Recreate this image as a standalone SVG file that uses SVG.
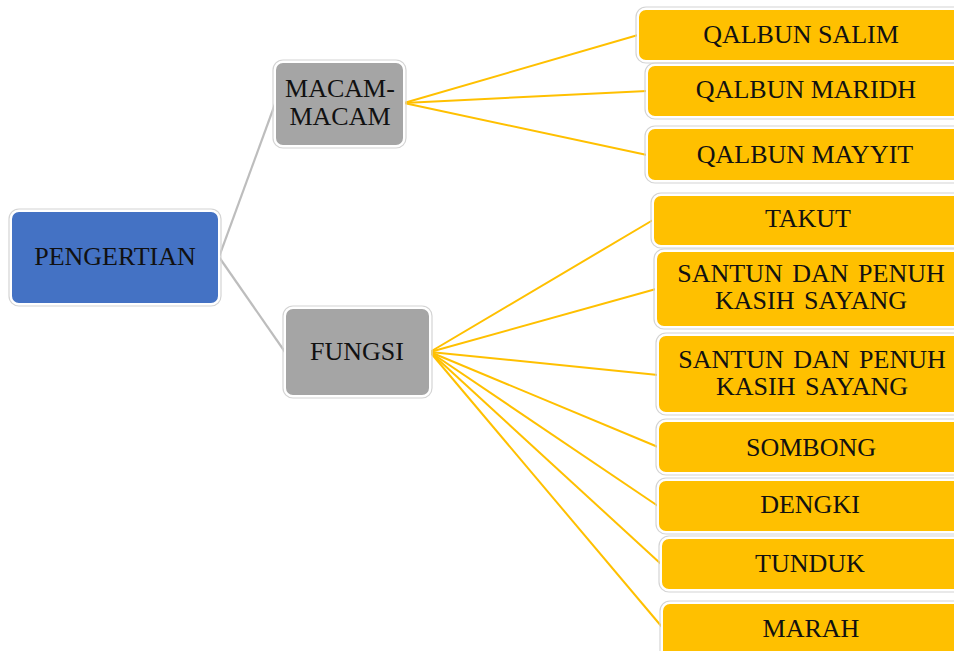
<svg xmlns="http://www.w3.org/2000/svg" width="954" height="651" viewBox="0 0 954 651">
<style>
.halo{fill:none;stroke:#d4d4d4;stroke-width:1.2}
.box{stroke:#ffffff;stroke-width:2}
.blue{fill:#4472C4}
.gray{fill:#A5A5A5}
.yel{fill:#FFC000}
.t{font-size:26px;fill:#111;text-anchor:middle}
.c1{stroke:#BDBDBD;stroke-width:2.2;fill:none}
.c2{stroke:#FFC000;stroke-width:2;fill:none}
</style>
<rect width="954" height="651" fill="#ffffff"/>
<g id="connectors">
<line class="c1" x1="219" y1="257" x2="275" y2="104"/>
<line class="c1" x1="219" y1="257" x2="285" y2="352"/>
<line class="c2" x1="404" y1="103" x2="638" y2="35"/>
<line class="c2" x1="404" y1="103" x2="647" y2="91"/>
<line class="c2" x1="404" y1="103" x2="647" y2="155"/>
<line class="c2" x1="430" y1="352" x2="653" y2="220"/>
<line class="c2" x1="430" y1="352" x2="656" y2="289"/>
<line class="c2" x1="430" y1="352" x2="658" y2="375"/>
<line class="c2" x1="430" y1="352" x2="658" y2="447"/>
<line class="c2" x1="430" y1="352" x2="658" y2="506"/>
<line class="c2" x1="430" y1="352" x2="661" y2="564"/>
<line class="c2" x1="430" y1="352" x2="662" y2="627"/>
</g>
<g font-family="Liberation Serif">
<g id="pengertian">
<rect class="halo" x="9" y="209" width="212" height="97" rx="10"/>
<rect class="box blue" x="11" y="211" width="208" height="93" rx="8"/>
<text class="t" font-family="Liberation Serif" x="115" y="265">PENGERTIAN</text>
</g>
<g id="macam">
<rect class="halo" x="273" y="60" width="133" height="88" rx="10"/>
<rect class="box gray" x="275" y="62" width="129" height="84" rx="8"/>
<text class="t" font-family="Liberation Serif" x="340" y="97">MACAM-</text>
<text class="t" font-family="Liberation Serif" x="340" y="125">MACAM</text>
</g>
<g id="fungsi">
<rect class="halo" x="283" y="306" width="149" height="92" rx="10"/>
<rect class="box gray" x="285" y="308" width="145" height="88" rx="8"/>
<text class="t" font-family="Liberation Serif" x="357" y="360">FUNGSI</text>
</g>
<g id="salim">
<rect class="halo" x="636" y="7" width="340" height="56" rx="10"/>
<rect class="box yel" x="638" y="9" width="336" height="52" rx="8"/>
<text class="t" font-family="Liberation Serif" x="801" y="43">QALBUN SALIM</text>
</g>
<g id="maridh">
<rect class="halo" x="645" y="63" width="340" height="56" rx="10"/>
<rect class="box yel" x="647" y="65" width="336" height="52" rx="8"/>
<text class="t" font-family="Liberation Serif" x="806" y="98">QALBUN MARIDH</text>
</g>
<g id="mayyit">
<rect class="halo" x="645" y="126" width="340" height="57" rx="10"/>
<rect class="box yel" x="647" y="128" width="336" height="53" rx="8"/>
<text class="t" font-family="Liberation Serif" x="805" y="163">QALBUN MAYYIT</text>
</g>
<g id="takut">
<rect class="halo" x="651" y="193" width="340" height="55" rx="10"/>
<rect class="box yel" x="653" y="195" width="336" height="51" rx="8"/>
<text class="t" font-family="Liberation Serif" x="808" y="227">TAKUT</text>
</g>
<g id="santun1">
<rect class="halo" x="654" y="249" width="340" height="80" rx="10"/>
<rect class="box yel" x="656" y="251" width="336" height="76" rx="8"/>
<text class="t" font-family="Liberation Serif" x="811" y="282" word-spacing="3">SANTUN DAN PENUH</text>
<text class="t" font-family="Liberation Serif" x="811" y="309" word-spacing="3">KASIH SAYANG</text>
</g>
<g id="santun2">
<rect class="halo" x="656" y="333" width="340" height="82" rx="10"/>
<rect class="box yel" x="658" y="335" width="336" height="78" rx="8"/>
<text class="t" font-family="Liberation Serif" x="812" y="368" word-spacing="3">SANTUN DAN PENUH</text>
<text class="t" font-family="Liberation Serif" x="812" y="395" word-spacing="3">KASIH SAYANG</text>
</g>
<g id="sombong">
<rect class="halo" x="656" y="419" width="340" height="56" rx="10"/>
<rect class="box yel" x="658" y="421" width="336" height="52" rx="8"/>
<text class="t" font-family="Liberation Serif" x="811" y="456">SOMBONG</text>
</g>
<g id="dengki">
<rect class="halo" x="656" y="478" width="340" height="56" rx="10"/>
<rect class="box yel" x="658" y="480" width="336" height="52" rx="8"/>
<text class="t" font-family="Liberation Serif" x="810" y="513">DENGKI</text>
</g>
<g id="tunduk">
<rect class="halo" x="659" y="536" width="340" height="56" rx="10"/>
<rect class="box yel" x="661" y="538" width="336" height="52" rx="8"/>
<text class="t" font-family="Liberation Serif" x="810" y="572">TUNDUK</text>
</g>
<g id="marah">
<rect class="halo" x="660" y="601" width="340" height="60" rx="10"/>
<rect class="box yel" x="662" y="603" width="336" height="56" rx="8"/>
<text class="t" font-family="Liberation Serif" x="811" y="637">MARAH</text>
</g>
</g>
</svg>
